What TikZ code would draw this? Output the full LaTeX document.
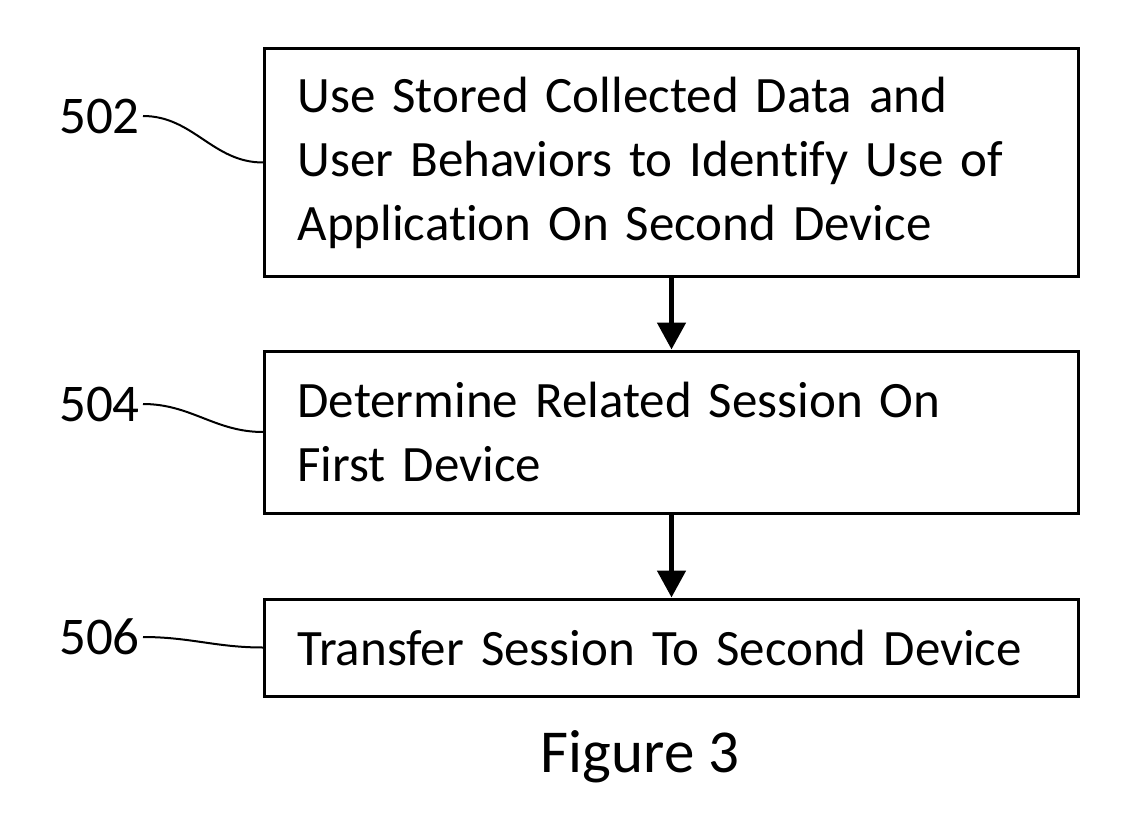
\documentclass[tikz,border=0pt]{standalone}
\usepackage{fontspec}
\setmainfont{Carlito}[Ligatures=NoCommon]
\usetikzlibrary{arrows.meta}

\begin{document}
\begin{tikzpicture}[x=1pt, y=-1pt,
    stepbox/.style={draw, line width=3pt, anchor=west, inner xsep=33pt, inner ysep=0pt,
      text width=748pt, align=left, font=\fontsize{51}{64}\selectfont},
    reflabel/.style={anchor=east, inner sep=3pt, font=\fontsize{53}{60}\selectfont},
    leader/.style={line width=2pt},
    flow/.style={line width=5pt, -{Triangle[width=28pt,length=27pt]}}]
        \useasboundingbox (0,0) rectangle (1139,826);

        % Step boxes
        \node[stepbox, minimum height=227pt] (b502) at (263,162.5)
          {Use Stored Collected Data and\\User Behaviors to Identify Use of\\Application On Second Device};
        \node[stepbox, minimum height=162pt] (b504) at (263,432)
          {Determine Related Session On\\First Device};
        \node[stepbox, minimum height=97pt] (b506) at (263,647.5)
          {Transfer Session To Second Device};

        % Flow arrows
        \draw[flow] (b502.south) -- (b504.north);
        \draw[flow] (b504.south) -- (b506.north);

        % Reference numerals with leaders
        \node[reflabel] (l502) at (143,116) {502};
        \node[reflabel] (l504) at (143,404) {504};
        \node[reflabel] (l506) at (143,637) {506};
        \draw[leader] (l502.east) to[out=0, in=180] (b502.west);
        \draw[leader] (l504.east) to[out=0, in=180] (b504.west);
        \draw[leader] (l506.east) to[out=0, in=180] (b506.west);

        % Caption
        \node[font=\fontsize{61}{70}\selectfont] (cap) at (640,757) {Figure 3};
\end{tikzpicture}
\end{document}
